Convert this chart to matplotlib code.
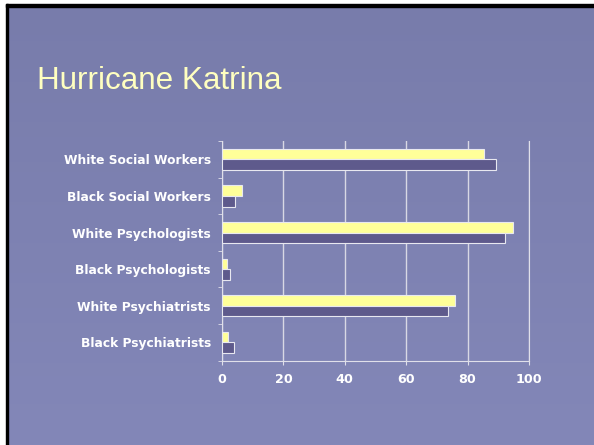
import numpy as np
import matplotlib.pyplot as plt
from matplotlib.patches import Rectangle

categories = ['Black Psychiatrists', 'White Psychiatrists', 'Black Psychologists',
              'White Psychologists', 'Black Social Workers', 'White Social Workers']
yellow_vals = [2.0, 76.0, 1.6, 94.8, 6.5, 85.2]
purple_vals = [3.9, 73.7, 2.7, 92.3, 4.1, 89.3]
x_ticks = [0, 20, 40, 60, 80, 100]

fig = plt.figure(figsize=(5.94, 4.45), dpi=100)

# slide background with a soft vertical gradient
bg = fig.add_axes([0, 0, 1, 1], zorder=-10)
grad = np.linspace(0, 1, 256).reshape(-1, 1)
bg.imshow(grad, aspect='auto', cmap=plt.matplotlib.colors.LinearSegmentedColormap.from_list(
    'slide', ['#787CAB', '#8387B8']), extent=[0, 1, 0, 1], origin='upper')
bg.set_xlim(0, 1)
bg.set_ylim(0, 1)
bg.axis('off')

# white margin + black frame on top and left
W, H = 594.0, 445.0
fig.patches.append(Rectangle((0, 1 - 4.3 / H), 1, 4.3 / H, transform=fig.transFigure, color='white', zorder=5))
fig.patches.append(Rectangle((0, 0), 5.7 / W, 1, transform=fig.transFigure, color='white', zorder=5))
fig.patches.append(Rectangle((5.7 / W, 1 - 7.0 / H), 1, 2.7 / H, transform=fig.transFigure, color='black', zorder=6))
fig.patches.append(Rectangle((5.7 / W, 0), 2.7 / W, 1 - 4.3 / H, transform=fig.transFigure, color='black', zorder=6))

fig.text(37 / W, 1 - 89 / H, 'Hurricane Katrina', color='#FFFFC0', fontsize=22.6,
         family='Liberation Sans', va='baseline', ha='left')

ax = fig.add_axes([222 / W, 1 - 360.7 / H, (529 - 222) / W, (360.7 - 141) / H])
ax.set_facecolor('none')

y = np.arange(len(categories))
h = 0.29
ax.barh(y + h / 2, yellow_vals, height=h, color='#FFFF99', edgecolor='#E8E8F0', linewidth=0.8, zorder=3)
ax.barh(y - h / 2, purple_vals, height=h, color='#5E5A8C', edgecolor='#E8E8F0', linewidth=0.8, zorder=3)

ax.set_xlim(0, 100)
ax.set_ylim(-0.5, len(categories) - 0.5)
ax.set_xticks(x_ticks)
ax.set_xticklabels([str(v) for v in x_ticks], color='white', fontweight='bold', fontsize=9.2)
ax.set_yticks(y)
ax.set_yticklabels(categories, color='white', fontweight='bold', fontsize=8.8)
ax.set_yticks(np.arange(-0.5, len(categories), 1), minor=True)
ax.tick_params(axis='y', which='major', length=0, pad=8)
ax.tick_params(axis='y', which='minor', length=3, color='#E0E0EA', direction='out')
ax.tick_params(axis='x', length=3, color='#E0E0EA', pad=6)
ax.grid(axis='x', color='#D8D8E4', linewidth=1, zorder=0)
for s in ['left', 'bottom', 'right']:
    ax.spines[s].set_color('#E0E0EA')
ax.spines['top'].set_visible(False)

plt.savefig('out.png', dpi=100)
plt.close()
